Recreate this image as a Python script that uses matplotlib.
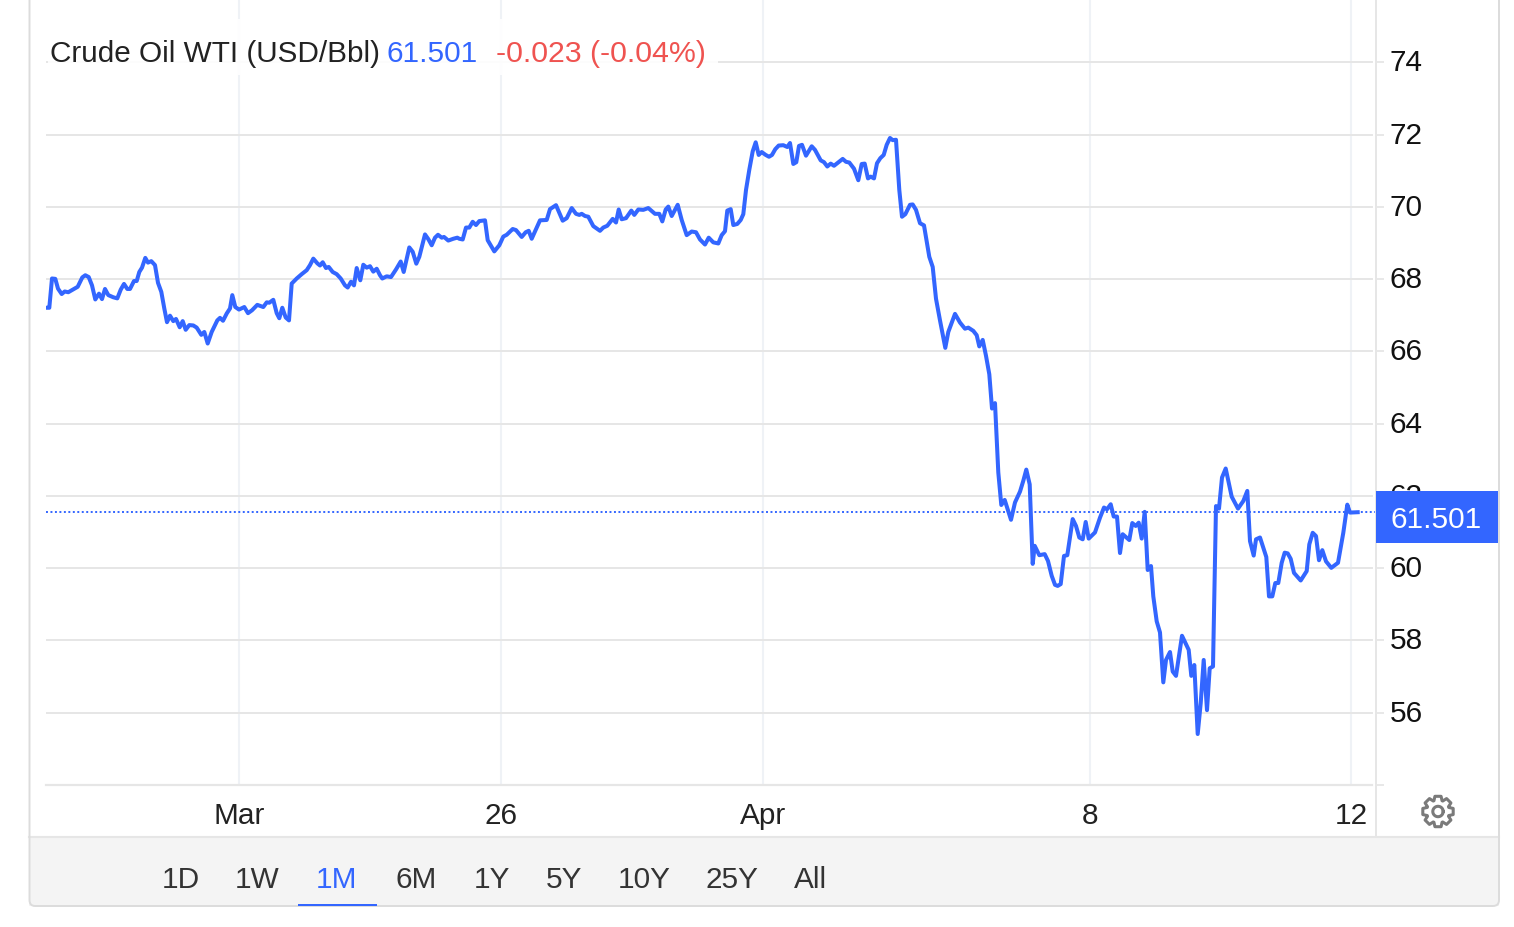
import numpy as np
import matplotlib
matplotlib.use("Agg")
import matplotlib.pyplot as plt
from matplotlib.patches import Rectangle, Polygon, PathPatch
from matplotlib.path import Path
from matplotlib.transforms import Affine2D, ScaledTranslation

plt.rcParams['font.family'] = ['Liberation Sans', 'DejaVu Sans']

# position along the chart's compressed time axis
session_pos = [
46.7,49.3,52,55.3,58,61.7,64.7,68.3,73.3,77.7,82.3,85.3,88.7,92,95.3,99,102,105,108.3,113.3,
117.3,120.7,124,127.3,130,134,136.7,139.3,142,145.3,148,151.3,155,158,161.3,164.3,167,170,173.3,176,
179.7,182.7,185.7,189.3,193.3,196.7,201.3,204.3,207.7,211.7,217.3,220,223,226.7,230,232.3,235.3,239,244.3,248,
252,257.3,263.3,266.7,269.3,273.3,276.7,279.3,282.3,285.7,289,291.7,296.7,301.7,306.7,310,313.3,317.3,320,322.7,
326,328.7,332.7,336.7,340.7,345,347.7,351,354,356.7,360.3,363.3,366.7,370,373.3,376.7,380,
382.3,386.7,391,396,400.7,403.7,409.3,412.7,416.3,419.3,425,428.3,431.7,435,438,441.7,444,448.3,453.3,457.3,
459.3,462.7,466,469.3,472.7,476,479.3,485,487.7,494.3,499.3,503.3,506.7,512.7,516,521.7,525.7,528.7,531.7,540,
546.7,550,556,562.7,566.7,571.7,576,579.3,581.7,585,588.3,593.3,600,603.3,607.3,612.7,616,618.7,621.7,626,
631.3,634.3,638.3,643.3,648.3,655,659.3,662.3,665.7,668.3,671.7,677.7,681.7,686.7,691.7,696,700,705,708.7,713.3,718.3,
721.7,725,727.3,730.7,733.3,737.3,740.7,743.3,746,749.3,752.7,755.7,758.7,761.7,765.7,769,772,775.3,778.7,783.3,
787.3,790,793.3,796.3,799,802,806,811.7,815,820.7,824,827.3,830.7,834,842.7,846,849.3,854,858.3,861.7,
864.7,868,870.7,874,877,880.3,883.7,886.7,890,892.7,896,899.3,902,905.3,910,912.7,916,920,924,929.3,
932.7,936,940,945.3,948.3,955,960,965,968.3,973.3,976.7,979.3,982.7,
986,989.3,992,995,998.3,1001.3,1004.7,1011,1015,1020,1023.3,1026.3,1029.7,1032.7,1034.7,1039.3,1044.7,1048,1051.7,1055,
1057.7,1060.7,1064,1067.3,1072.7,1076,1079.3,1082.7,1085.7,1088.7,1095,1100,1104,1107,1110.7,1113.7,1117,1120,1122.7,1129.3,
1132.3,1135.7,1138.7,1141.7,1144.7,1147.7,1151,
1153.3,1156.7,1160,1163.3,1166,1170,1172.7,1176,1182,1188.7,1191.3,1194.3,1197.7,1200.7,1203.7,1207,1209.7,1213,1216,1219,
1222,1225.7,1231.7,1238,1243.3,1247.3,1250,1253.7,1256,1260,1266.3,1269,1272.3,1275.3,1278.3,1281.7,1284.7,1287.7,1290.7,1294,
1300.7,1306.7,1309.3,1312.7,1316,1319,1322.3,1326,1331.3,1338,1343.3,1347.3,1350,1357.7]

price = [
67.21,67.21,68.02,68.01,67.74,67.59,67.66,67.64,67.72,67.79,68.05,68.11,68.06,67.83,67.44,67.60,67.45,67.73,67.56,67.50,
67.47,67.71,67.87,67.73,67.73,67.95,67.95,68.20,68.32,68.59,68.46,68.50,68.39,67.90,67.65,67.19,66.81,66.99,66.84,66.90,
66.67,66.84,66.60,66.73,66.72,66.66,66.46,66.54,66.22,66.54,66.86,66.93,66.85,67.05,67.19,67.56,67.23,67.16,67.23,67.06,
67.14,67.29,67.23,67.36,67.35,67.43,67.06,66.92,67.21,66.94,66.86,67.88,68.02,68.14,68.25,68.39,68.57,68.44,68.38,68.47,
68.31,68.34,68.20,68.14,68.02,67.83,67.77,67.93,67.83,68.31,67.97,68.40,68.32,68.36,68.21,68.29,68.11,
68.02,68.08,68.06,68.27,68.49,68.20,68.88,68.76,68.43,68.62,69.24,69.11,68.94,69.15,69.23,69.15,69.17,69.07,69.12,69.15,
69.12,69.10,69.43,69.43,69.59,69.50,69.61,69.63,69.08,68.77,68.94,69.18,69.23,69.39,69.36,69.17,69.30,69.34,69.12,69.63,
69.64,69.94,70.05,69.62,69.69,69.97,69.81,69.78,69.81,69.75,69.73,69.47,69.34,69.43,69.48,69.67,69.57,69.93,69.66,69.69,
69.90,69.78,69.93,69.92,69.97,69.81,69.81,69.60,69.93,70.01,69.75,70.06,69.64,69.22,69.32,69.30,69.10,68.96,69.15,69.02,68.99,
69.22,69.33,69.90,69.94,69.50,69.53,69.64,69.80,70.47,71.03,71.54,71.79,71.44,71.52,71.44,71.39,71.44,71.60,71.70,71.71,
71.66,71.77,71.19,71.24,71.69,71.72,71.42,71.68,71.58,71.29,71.24,71.12,71.20,71.14,71.33,71.25,71.23,71.06,70.74,71.19,
71.20,70.79,70.84,70.79,71.21,71.35,71.44,71.72,71.91,71.85,71.86,70.47,69.73,69.80,70.06,70.07,69.92,69.55,69.49,68.62,
68.34,67.46,66.86,66.10,66.54,67.04,66.80,66.63,66.66,66.57,66.45,66.14,66.32,
65.88,65.37,64.42,64.57,62.65,61.75,61.89,61.34,61.82,62.12,62.42,62.73,62.32,60.12,60.62,60.36,60.39,60.20,59.79,59.54,
59.51,59.56,60.34,60.36,61.36,61.17,60.85,60.80,61.28,60.82,60.99,61.40,61.68,61.63,61.77,61.43,61.43,60.42,60.94,60.78,
61.25,61.17,61.26,60.82,61.56,59.95,60.06,
59.22,58.53,58.22,56.84,57.46,57.68,57.14,57.02,58.13,57.74,57.02,57.32,55.41,56.26,57.46,56.07,57.23,57.28,61.72,61.65,
62.51,62.76,61.98,61.65,61.86,62.14,60.75,60.35,60.80,60.85,60.31,59.22,59.22,59.59,59.59,60.15,60.43,60.41,60.26,59.87,
59.66,59.92,60.66,60.98,60.89,60.22,60.50,60.19,60.01,60.15,60.98,61.76,61.54,61.55]

y_ticks = [56, 58, 60, 62, 64, 66, 68, 70, 72, 74]
x_tick_pos = [239, 501, 763, 1090, 1351]
x_tick_labels = ['Mar', '26', 'Apr', '8', '12']
last_level = 61.55
range_buttons = ['1D', '1W', '1M', '6M', '1Y', '5Y', '10Y', '25Y', 'All']
range_centers = [181, 257, 337, 416, 492, 564, 644, 732, 811]

BLUE = '#3366ff'
GRID = '#e6e6e6'
VGRID = '#eff2f6'
W, H = 1514, 928
FS = 21.4

fig = plt.figure(figsize=(W / 100, H / 100), dpi=100, facecolor='white')
pix = Affine2D().scale(1 / W, -1 / H).translate(0, 1) + fig.transFigure

# footer and frame
fig.add_artist(Rectangle((29, 837.5), 1470, 69.5, transform=pix, fc='#f4f4f4', ec='none', zorder=-2))
fig.add_artist(plt.Line2D([29, 1499], [837.5, 837.5], transform=pix, color=GRID, lw=1.5, zorder=-1))
frame = Path([(29.5, 0), (29.5, 901), (29.5, 907), (35, 907), (1493, 907), (1499, 907), (1499, 901), (1499, 0)],
             [Path.MOVETO, Path.LINETO, Path.CURVE3, Path.CURVE3, Path.LINETO, Path.CURVE3, Path.CURVE3, Path.LINETO])
fig.add_artist(PathPatch(frame, transform=pix, fc='none', ec='#dcdcdc', lw=1.4, zorder=-1))
fig.add_artist(plt.Line2D([1375.5, 1375.5], [0, 837], transform=pix, color=GRID, lw=1.4, zorder=-1))

ax = fig.add_axes([46 / W, (H - 785.7) / H, 1329 / W, 785.7 / H])
ax.patch.set_alpha(0)
ax.set_xlim(46, 1375)
ax.set_ylim(54.007, 75.757)
for s in ax.spines.values():
    s.set_visible(False)

ax.yaxis.tick_right()
ax.set_yticks(y_ticks, [str(v) for v in y_ticks], fontsize=FS, color='#111111')
ax.set_yticks([54.007], minor=True)
ax.tick_params(axis='y', which='both', length=6.3, width=1.3, color=GRID, pad=4)
ax.set_xticks(x_tick_pos, x_tick_labels, fontsize=FS, color='#222222')
ax.tick_params(axis='x', length=0, pad=12)
up = ScaledTranslation(0, 3 / 100, fig.dpi_scale_trans)
for lab in ax.get_yticklabels():
    lab.set_transform(lab.get_transform() + up)

grid_end = (1372 - 46) / 1329
for v in y_ticks:
    ax.axhline(v, xmax=grid_end, color=GRID, lw=1.4, zorder=1)
ax.axhline(54.007, xmax=grid_end, color=GRID, lw=1.6, zorder=1, clip_on=False)
for p in x_tick_pos:
    ax.axvline(p, color=VGRID, lw=1.5, zorder=0.5)

ax.axhline(last_level, color=BLUE, lw=1.4, ls=(0, (1, 1.3)), zorder=2)
ax.plot(session_pos, price, color=BLUE, lw=2.9, solid_joinstyle='round', zorder=3)

# title strip
ax.add_patch(Rectangle((48, 20), 670, 56, transform=pix, fc='white', ec='none', alpha=0.92, zorder=4))
fig.text(50, 62, 'Crude Oil WTI (USD/Bbl)', transform=pix, fontsize=FS, color='#222222', va='baseline', zorder=6)
fig.text(387, 62, '61.501', transform=pix, fontsize=FS, color=BLUE, va='baseline', zorder=6)
fig.text(496, 62, '-0.023 (-0.04%)', transform=pix, fontsize=21.8, color='#ef5350', va='baseline', zorder=6)

# last price tag
fig.add_artist(Rectangle((1376, 491.5), 122, 52, transform=pix, fc=BLUE, ec='none', zorder=8))
fig.text(1436, 528.5, '61.501', transform=pix, fontsize=FS, color='white', ha='center', va='baseline', zorder=9)

# range buttons
for lab, c in zip(range_buttons, range_centers):
    fig.text(c, 888, lab, transform=pix, fontsize=FS, ha='center', va='baseline',
             color=BLUE if lab == '1M' else '#333333', zorder=6)
fig.add_artist(Rectangle((298, 904.5), 79, 2, transform=pix, fc=BLUE, ec='none', zorder=6))

# settings icon
cx, cy = 1438, 812.5
n = 8
pts = []
for i in range(n):
    a = 2 * np.pi * i / n - np.pi / 2
    for da, r in [(-0.36, 11.5), (-0.2, 15.5), (0.2, 15.5), (0.36, 11.5)]:
        pts.append((cx + r * np.cos(a + da), cy + r * np.sin(a + da)))
fig.add_artist(Polygon(pts, closed=True, transform=pix, fc='none', ec='#7a7a7a', lw=2.2, joinstyle='round', zorder=6))
t = np.linspace(0, 2 * np.pi, 40)
fig.add_artist(plt.Line2D(cx + 5.2 * np.cos(t), cy + 5.2 * np.sin(t), transform=pix, color='#7a7a7a', lw=2.2, zorder=6))

assert len(session_pos) == len(price), (len(session_pos), len(price))
fig.savefig('out.png', dpi=100)
